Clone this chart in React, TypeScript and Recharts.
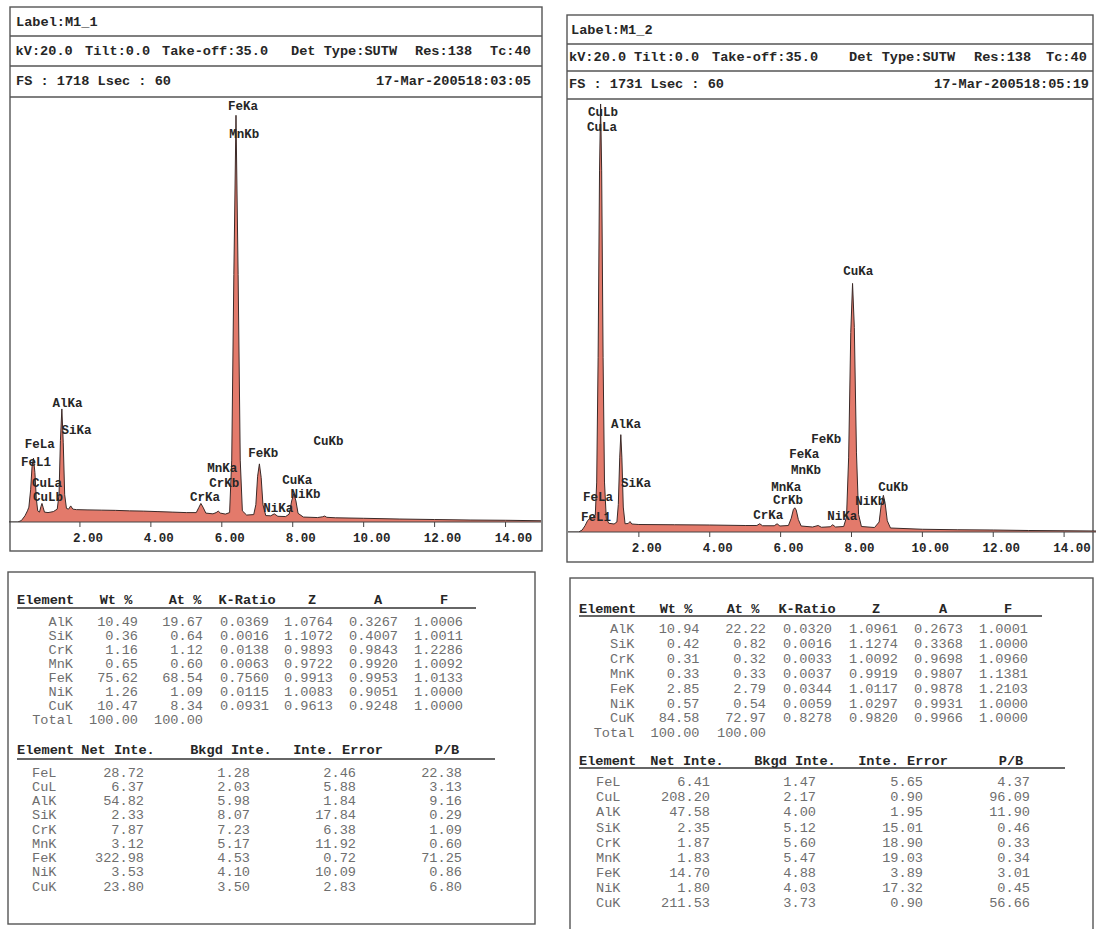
import React from "react";
import { AreaChart, Area, XAxis, YAxis, ReferenceDot } from "recharts";

const MONO = '"Liberation Mono", "DejaVu Sans Mono", monospace';
const INK = "#262626";
const GREY = "#6e6e6e";

// spectrum points: [energy keV, counts]
const spectrumM1_1: [number, number][] = [
  [0.0, 0], [0.25, 0], [0.35, 6], [0.45, 25], [0.52, 45],
  [0.56, 60], [0.61, 130], [0.65, 225], [0.69, 258], [0.73, 200], [0.77, 95], [0.81, 45],
  [0.86, 40], [0.9, 62], [0.93, 75], [0.96, 60], [1.0, 40], [1.1, 38], [1.25, 42], [1.36, 52],
  [1.41, 110], [1.45, 330], [1.49, 457], [1.53, 320], [1.57, 110], [1.62, 55],
  [1.68, 52], [1.74, 65], [1.8, 52], [1.9, 50], [2.2, 49], [2.6, 48], [3.0, 47], [3.4, 45],
  [3.8, 44], [4.2, 42], [4.6, 40], [5.0, 38], [5.28, 38],
  [5.35, 58], [5.41, 75], [5.47, 60], [5.55, 36], [5.75, 33],
  [5.84, 38], [5.9, 44], [5.96, 36], [6.1, 32], [6.22, 38],
  [6.28, 250], [6.34, 1000], [6.4, 1644], [6.46, 1000], [6.52, 250], [6.58, 45], [6.7, 28], [6.9, 30],
  [6.96, 70], [7.01, 185], [7.06, 235], [7.11, 180], [7.16, 70], [7.24, 26], [7.38, 25],
  [7.48, 33], [7.58, 23], [7.8, 22], [7.9, 32],
  [7.97, 85], [8.03, 115], [8.09, 85], [8.15, 35], [8.3, 20], [8.7, 18],
  [8.84, 21], [8.9, 24], [8.96, 19], [9.2, 17], [10.0, 15], [11.0, 12], [12.0, 10],
  [13.0, 8], [14.0, 7], [15.0, 5],
];

const spectrumM1_2: [number, number][] = [
  [0.0, 0], [0.3, 0], [0.4, 8], [0.48, 25], [0.55, 45], [0.62, 55], [0.7, 58], [0.77, 68],
  [0.81, 200], [0.85, 700], [0.89, 1450], [0.92, 1715], [0.95, 1450], [0.99, 700], [1.03, 200],
  [1.08, 55], [1.15, 35], [1.3, 32], [1.38, 40],
  [1.42, 110], [1.46, 300], [1.49, 390], [1.52, 300], [1.56, 100], [1.61, 33],
  [1.7, 34], [1.75, 42], [1.8, 32], [2.0, 30], [3.0, 29], [4.0, 28], [5.0, 26], [5.33, 26],
  [5.41, 33], [5.49, 25], [5.82, 25], [5.9, 33], [5.98, 24], [6.22, 26],
  [6.3, 55], [6.36, 90], [6.4, 97], [6.44, 88], [6.5, 50], [6.58, 24], [6.9, 20],
  [7.06, 26], [7.15, 19], [7.4, 21], [7.47, 29], [7.55, 20], [7.78, 22],
  [7.86, 60], [7.92, 300], [7.98, 800], [8.03, 996], [8.08, 820], [8.14, 320], [8.2, 70],
  [8.28, 22], [8.65, 18],
  [8.78, 40], [8.84, 110], [8.9, 147], [8.95, 115], [9.01, 45], [9.1, 16],
  [10.0, 11], [11.0, 9], [12.0, 8], [13.0, 6], [14.0, 5], [14.9, 4],
];

// peak markers: [name, keV, counts] where the label text sits
const peaksM1_1: [string, number, number][] = [
  ["FeKa", 6.6, 1685], ["MnKb", 6.63, 1572], ["AlKa", 1.65, 481], ["SiKa", 1.9, 372],
  ["FeLa", 0.87, 319], ["FeL1", 0.76, 246], ["CuLa", 1.07, 158], ["CuLb", 1.1, 101],
  ["CrKa", 5.53, 101], ["MnKa", 6.01, 222], ["CrKb", 6.07, 158], ["FeKb", 7.17, 279],
  ["NiKa", 7.59, 57], ["CuKa", 8.13, 170], ["NiKb", 8.36, 113], ["CuKb", 9.01, 331],
];

const peaksM1_2: [string, number, number][] = [
  ["CuLb", 0.99, 1683], ["CuLa", 0.96, 1623], ["CuKa", 8.19, 1046], ["AlKa", 1.64, 433],
  ["SiKa", 1.92, 200], ["FeKb", 7.29, 373], ["FeKa", 6.67, 313], ["MnKb", 6.72, 252],
  ["MnKa", 6.16, 184], ["CrKb", 6.21, 128], ["FeLa", 0.85, 140], ["FeL1", 0.79, 60],
  ["CrKa", 5.65, 68], ["NiKa", 7.74, 64], ["NiKb", 8.53, 124], ["CuKb", 9.18, 184],
];

const kevTicks = [2, 4, 6, 8, 10, 12, 14];

// quantification tables
const quantElements = ["AlK", "SiK", "CrK", "MnK", "FeK", "NiK", "CuK"];
const wt1 = [10.49, 0.36, 1.16, 0.65, 75.62, 1.26, 10.47];
const at1 = [19.67, 0.64, 1.12, 0.6, 68.54, 1.09, 8.34];
const kRatio1 = [0.0369, 0.0016, 0.0138, 0.0063, 0.756, 0.0115, 0.0931];
const z1 = [1.0764, 1.1072, 0.9893, 0.9722, 0.9913, 1.0083, 0.9613];
const a1 = [0.3267, 0.4007, 0.9843, 0.992, 0.9953, 0.9051, 0.9248];
const f1 = [1.0006, 1.0011, 1.2286, 1.0092, 1.0133, 1.0, 1.0];

const wt2 = [10.94, 0.42, 0.31, 0.33, 2.85, 0.57, 84.58];
const at2 = [22.22, 0.82, 0.32, 0.33, 2.79, 0.54, 72.97];
const kRatio2 = [0.032, 0.0016, 0.0033, 0.0037, 0.0344, 0.0059, 0.8278];
const z2 = [1.0961, 1.1274, 1.0092, 0.9919, 1.0117, 1.0297, 0.982];
const a2 = [0.2673, 0.3368, 0.9698, 0.9807, 0.9878, 0.9931, 0.9966];
const f2 = [1.0001, 1.0, 1.096, 1.1381, 1.2103, 1.0, 1.0];

const lineElements = ["FeL", "CuL", "AlK", "SiK", "CrK", "MnK", "FeK", "NiK", "CuK"];
const net1 = [28.72, 6.37, 54.82, 2.33, 7.87, 3.12, 322.98, 3.53, 23.8];
const bkgd1 = [1.28, 2.03, 5.98, 8.07, 7.23, 5.17, 4.53, 4.1, 3.5];
const err1 = [2.46, 5.88, 1.84, 17.84, 6.38, 11.92, 0.72, 10.09, 2.83];
const pb1 = [22.38, 3.13, 9.16, 0.29, 1.09, 0.6, 71.25, 0.86, 6.8];

const net2 = [6.41, 208.2, 47.58, 2.35, 1.87, 1.83, 14.7, 1.8, 211.53];
const bkgd2 = [1.47, 2.17, 4.0, 5.12, 5.6, 5.47, 4.88, 4.03, 3.73];
const err2 = [5.65, 0.9, 1.95, 15.01, 18.9, 19.03, 3.89, 17.32, 0.9];
const pb2 = [4.37, 96.09, 11.9, 0.46, 0.33, 0.34, 3.01, 0.45, 56.66];

const quantHeads = ["Wt %", "At %", "K-Ratio", "Z", "A", "F"];
const lineHeads = ["Net Inte.", "Bkgd Inte.", "Inte. Error", "P/B"];

function makeTick(dy: number) {
  return function KevTick(props: any) {
    const { x, y, payload } = props;
    return (
      <text x={x + 8} y={y + dy} textAnchor="middle" dominantBaseline="central"
        fontFamily={MONO} fontWeight="bold" fontSize={12.5} fill={INK}>
        {Number(payload.value).toFixed(2)}
      </text>
    );
  };
}
const TickLeft = makeTick(10);
const TickRight = makeTick(10);

function Spectrum({ data, peaks, fs, maxKev, width, height, axisH, Tick }: any) {
  const rows = data.map(([kev, cnt]: [number, number]) => ({ kev, cnt }));
  return (
    <AreaChart width={width} height={height} data={rows} margin={{ top: 0, right: 0, bottom: 0, left: 0 }}>
      <XAxis dataKey="kev" type="number" domain={[0, maxKev]} ticks={kevTicks} allowDataOverflow
        height={axisH} tick={<Tick />} tickSize={5} stroke="#444" interval={0} />
      <YAxis hide domain={[0, fs]} allowDataOverflow />
      <Area dataKey="cnt" type="linear" stroke="#3b2a28" strokeWidth={1} fill="#e37a6b" fillOpacity={1}
        isAnimationActive={false} dot={false} activeDot={false} />
      {peaks.map(([name, kev, cnt]: [string, number, number], i: number) => (
        <ReferenceDot key={name + i} x={kev} y={cnt} r={0} fill="none" stroke="none" ifOverflow="visible"
          label={{ value: name, position: "center", fill: INK, fontSize: 12.5, fontFamily: MONO, fontWeight: "bold" }} />
      ))}
    </AreaChart>
  );
}

function T({ x, y, anchor = "start", bold = false, fill = INK, size = 13.6, children }: any) {
  return (
    <text x={x} y={y} textAnchor={anchor} dominantBaseline="central" fontFamily={MONO}
      fontWeight={bold ? "bold" : "normal"} fontSize={size} fill={fill}>
      {children}
    </text>
  );
}

function PanelHead({ box, rows, label, items, fsText, stamp }: any) {
  const [x0, y0, x1, y1] = box;
  return (
    <g>
      <rect x={x0} y={y0} width={x1 - x0} height={y1 - y0} fill="none" stroke="#555" strokeWidth={1.4} />
      {rows.map((ry: number) => (
        <line key={ry} x1={x0} x2={x1} y1={ry} y2={ry} stroke="#555" strokeWidth={1.4} />
      ))}
      <T x={label[0]} y={label[1]} bold>{label[2]}</T>
      {items.map(([tx, ty, s]: [number, number, string]) => (
        <T key={s} x={tx} y={ty} bold>{s}</T>
      ))}
      <T x={fsText[0]} y={fsText[1]} bold>{fsText[2]}</T>
      <T x={stamp[0]} y={stamp[1]} anchor="end" bold>{stamp[2]}</T>
    </g>
  );
}

function Table({ headY, lineY, lineX, elemX, elemAnchor, headX, rightX, rowY, step, names, cols, total }: any) {
  return (
    <g>
      <T x={lineX[0]} y={headY} bold>Element</T>
      {cols.map((c: any, j: number) => (
        <T key={c.head} x={headX[j]} y={headY} anchor="middle" bold>{c.head}</T>
      ))}
      <line x1={lineX[0]} x2={lineX[1]} y1={lineY} y2={lineY} stroke="#333" strokeWidth={1.3} />
      {names.map((n: string, i: number) => (
        <g key={n}>
          <T x={elemX} y={rowY + i * step} anchor={elemAnchor} fill={GREY}>{n}</T>
          {cols.map((c: any, j: number) => (
            <T key={c.head} x={rightX[j]} y={rowY + i * step} anchor="end" fill={GREY}>
              {c.values[i].toFixed(c.digits)}
            </T>
          ))}
        </g>
      ))}
      {total && (
        <g>
          <T x={elemX} y={rowY + names.length * step} anchor="end" fill={GREY}>Total</T>
          <T x={rightX[0]} y={rowY + names.length * step} anchor="end" fill={GREY}>100.00</T>
          <T x={rightX[1]} y={rowY + names.length * step} anchor="end" fill={GREY}>100.00</T>
        </g>
      )}
    </g>
  );
}

const quantCols = (wt: number[], at: number[], kr: number[], z: number[], a: number[], f: number[]) => [
  { head: quantHeads[0], values: wt, digits: 2 },
  { head: quantHeads[1], values: at, digits: 2 },
  { head: quantHeads[2], values: kr, digits: 4 },
  { head: quantHeads[3], values: z, digits: 4 },
  { head: quantHeads[4], values: a, digits: 4 },
  { head: quantHeads[5], values: f, digits: 4 },
];

const lineCols = (net: number[], bk: number[], er: number[], pb: number[]) => [
  { head: lineHeads[0], values: net, digits: 2 },
  { head: lineHeads[1], values: bk, digits: 2 },
  { head: lineHeads[2], values: er, digits: 2 },
  { head: lineHeads[3], values: pb, digits: 2 },
];

export default function App() {
  return (
    <div style={{ position: "absolute", left: 0, top: 0, width: 1096, height: 929, background: "#fff", overflow: "hidden" }}>
      <svg width={1096} height={929} style={{ position: "absolute", left: 0, top: 0 }}>
        <PanelHead box={[10, 7, 542, 551]} rows={[36, 66, 97]}
          label={[16, 22, "Label:M1_1"]}
          items={[[15.6, 51, "kV:20.0"], [85, 51, "Tilt:0.0"], [162, 51, "Take-off:35.0"],
            [291, 51, "Det Type:SUTW"], [415, 51, "Res:138"], [490, 51, "Tc:40"]]}
          fsText={[16, 81, "FS : 1718 Lsec : 60"]}
          stamp={[531, 81, "17-Mar-200518:03:05"]} />
        <PanelHead box={[567, 15, 1093, 562]} rows={[44, 71, 99]}
          label={[571, 30, "Label:M1_2"]}
          items={[[569, 57, "kV:20.0"], [634, 57, "Tilt:0.0"], [712, 57, "Take-off:35.0"],
            [849, 57, "Det Type:SUTW"], [974, 57, "Res:138"], [1046, 57, "Tc:40"]]}
          fsText={[569, 84, "FS : 1731 Lsec : 60"]}
          stamp={[1089, 84, "17-Mar-200518:05:19"]} />

        <rect x={8} y={572} width={527} height={352} fill="none" stroke="#555" strokeWidth={1.4} />
        <rect x={570} y={578} width={523} height={370} fill="none" stroke="#555" strokeWidth={1.4} />

        <Table headY={600} lineY={608} lineX={[17, 476]} elemX={73} elemAnchor="end"
          headX={[116, 185, 247, 312, 378, 444]} rightX={[138, 203, 269, 333, 398, 463]}
          rowY={622} step={14.1} names={quantElements} cols={quantCols(wt1, at1, kRatio1, z1, a1, f1)} total />
        <Table headY={750} lineY={759} lineX={[17, 495]} elemX={32} elemAnchor="start"
          headX={[118, 231, 338, 447]} rightX={[144, 250, 356, 462]}
          rowY={773} step={14.25} names={lineElements} cols={lineCols(net1, bkgd1, err1, pb1)} />

        <Table headY={609} lineY={616} lineX={[579, 1042]} elemX={634.5} elemAnchor="end"
          headX={[676, 743, 807, 876, 943, 1008]} rightX={[699.5, 766, 832, 898, 963, 1028]}
          rowY={629.5} step={14.9} names={quantElements} cols={quantCols(wt2, at2, kRatio2, z2, a2, f2)} total />
        <Table headY={761} lineY={768} lineX={[579, 1065]} elemX={596} elemAnchor="start"
          headX={[687, 795, 903, 1011]} rightX={[710, 816, 923, 1030]}
          rowY={782.7} step={15.1} names={lineElements} cols={lineCols(net2, bkgd2, err2, pb2)} />
      </svg>

      <div style={{ position: "absolute", left: 9, top: 97 }}>
        <Spectrum data={spectrumM1_1} peaks={peaksM1_1} fs={1718} maxKev={15} width={532} height={454} axisH={29} Tick={TickLeft} />
      </div>
      <div style={{ position: "absolute", left: 568, top: 100 }}>
        <Spectrum data={spectrumM1_2} peaks={peaksM1_2} fs={1731} maxKev={14.9} width={528} height={462} axisH={30} Tick={TickRight} />
      </div>
    </div>
  );
}
